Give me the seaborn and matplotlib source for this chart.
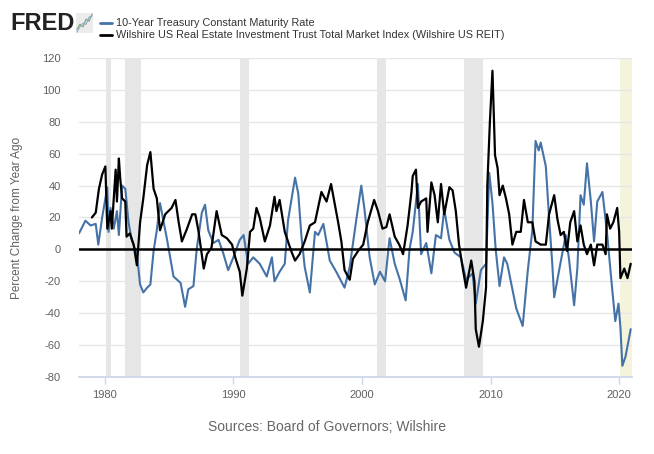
import numpy as np
import pandas as pd
import matplotlib
matplotlib.use("Agg")
import matplotlib.pyplot as plt
import seaborn as sns

# 10-Year Treasury, percent change from year ago
treasury_years = [1978.0, 1978.5, 1978.9, 1979.3, 1979.5, 1979.8, 1980.2, 1980.3, 1980.45, 1980.7,
                  1980.95, 1981.1, 1981.35, 1981.6, 1981.85, 1982.1, 1982.5, 1982.75, 1983.0, 1983.3,
                  1983.55, 1983.8, 1984.05, 1984.3, 1984.85, 1985.35, 1985.9, 1986.25, 1986.5, 1986.9,
                  1987.15, 1987.55, 1987.8, 1988.05, 1988.45, 1988.85, 1989.2, 1989.6, 1990.0, 1990.5,
                  1990.8, 1991.15, 1991.55, 1992.05, 1992.6, 1993.0, 1993.2, 1993.6, 1994.0, 1994.25,
                  1994.8, 1995.05, 1995.3, 1995.55, 1995.95, 1996.35, 1996.6, 1997.0, 1997.5, 1998.0,
                  1998.65, 1999.05, 1999.55, 1999.95, 2000.2, 2000.6, 2001.0, 2001.4, 2001.8, 2002.15,
                  2002.55, 2002.95, 2003.4, 2003.7, 2003.95, 2004.35, 2004.6, 2005.0, 2005.4, 2005.75,
                  2006.15, 2006.4, 2006.8, 2007.2, 2007.7, 2008.1, 2008.6, 2008.85, 2009.25, 2009.65,
                  2009.9, 2010.15, 2010.4, 2010.7, 2011.05, 2011.3, 2011.6, 2012.0, 2012.5, 2012.9,
                  2013.25, 2013.5, 2013.75, 2013.9, 2014.3, 2014.55, 2014.8, 2014.95, 2015.45, 2015.85,
                  2016.1, 2016.5, 2016.75, 2017.0, 2017.25, 2017.5, 2017.8, 2018.05, 2018.3, 2018.7,
                  2019.05, 2019.45, 2019.7, 2019.95, 2020.1, 2020.25, 2020.5, 2020.9]
treasury_values = [10, 18, 15, 16, 3, 20, 39, 11, 26, 13,
                   24, 9, 40, 38, 17, 6, -3, -22, -27, -24,
                   -22, -1, 12, 29, 6, -17, -21, -36, -25, -23,
                   0, 23, 28, 12, 4, 6, -2, -13, -5, 6,
                   9, -9, -5, -9, -17, -5, -20, -14, -9, 18,
                   45, 35, 8, -11, -27, 11, 9, 16, -7, -14,
                   -24, -11, 18, 40, 25, -5, -22, -14, -20, 7,
                   -9, -19, -32, 0, 11, 41, -3, 4, -15, 9,
                   7, 25, 6, -2, -5, -19, -15, -34, -13, -9,
                   48, 29, 0, -23, -5, -9, -21, -37, -48, -13,
                   12, 68, 62, 67, 52, 20, -9, -30, -8, 9,
                   -6, -35, -12, 34, 28, 54, 30, 5, 30, 36,
                   11, -24, -45, -34, -49, -73, -67, -50]

# Wilshire US REIT total market index, percent change from year ago
reit_years = [1979.0, 1979.3, 1979.55, 1979.8, 1980.05, 1980.2, 1980.45, 1980.55, 1980.85, 1980.95,
              1981.1, 1981.2, 1981.35, 1981.6, 1981.7, 1981.95, 1982.25, 1982.5, 1982.75, 1983.0,
              1983.3, 1983.55, 1983.8, 1984.05, 1984.3, 1984.7, 1985.2, 1985.5, 1985.75, 1986.0,
              1986.4, 1986.8, 1987.05, 1987.3, 1987.7, 1987.95, 1988.3, 1988.7, 1989.1, 1989.5,
              1989.9, 1990.15, 1990.5, 1990.7, 1991.05, 1991.3, 1991.55, 1991.8, 1992.05, 1992.45,
              1992.85, 1993.2, 1993.35, 1993.6, 1994.0, 1994.25, 1994.5, 1994.8, 1995.15, 1995.55,
              1995.95, 1996.35, 1996.85, 1997.25, 1997.6, 1997.9, 1998.15, 1998.4, 1998.65, 1999.05,
              1999.3, 1999.7, 2000.1, 2000.45, 2000.95, 2001.25, 2001.6, 2001.9, 2002.15, 2002.55,
              2002.9, 2003.2, 2003.55, 2003.85, 2003.95, 2004.2, 2004.35, 2004.6, 2005.0, 2005.1,
              2005.4, 2005.65, 2005.9, 2006.15, 2006.4, 2006.8, 2007.05, 2007.3, 2007.55, 2007.8,
              2008.1, 2008.5, 2008.75, 2008.85, 2009.1, 2009.4, 2009.65, 2009.75, 2009.95, 2010.15,
              2010.35, 2010.55, 2010.7, 2010.95, 2011.2, 2011.45, 2011.7, 2012.0, 2012.35, 2012.6,
              2012.9, 2013.25, 2013.5, 2013.9, 2014.3, 2014.55, 2014.95, 2015.2, 2015.45, 2015.7,
              2015.95, 2016.2, 2016.5, 2016.75, 2017.0, 2017.25, 2017.5, 2017.8, 2018.05, 2018.3,
              2018.7, 2018.95, 2019.05, 2019.3, 2019.55, 2019.85, 2020.0, 2020.1, 2020.4, 2020.65,
              2020.9]
reit_values = [20, 23, 38, 47, 52, 13, 24, 13, 50, 30,
               57, 45, 32, 30, 8, 10, 3, -10, 17, 32,
               53, 61, 38, 32, 12, 22, 26, 31, 17, 5,
               13, 22, 22, 11, -12, -3, 1, 24, 9, 7,
               3, -5, -14, -29, -12, 11, 13, 26, 20, 5,
               15, 33, 24, 31, 11, 5, -1, -7, -3, 5,
               15, 17, 36, 30, 41, 28, 17, 5, -13, -19,
               -6, -1, 3, 17, 31, 24, 13, 14, 22, 8,
               3, -3, 15, 36, 46, 50, 26, 30, 32, 11,
               42, 34, 17, 41, 22, 39, 37, 24, 3, -10,
               -24, -7, -20, -50, -61, -45, -24, 40, 80, 112,
               59, 51, 34, 40, 32, 22, 3, 11, 11, 31,
               17, 17, 5, 3, 3, 22, 34, 19, 9, 11,
               -1, 17, 24, 5, 15, 3, -3, 3, -10, 3,
               3, -3, 22, 13, 17, 26, 11, -18, -12, -18,
               -9]

recession_starts = [1980.1, 1981.55, 1990.55, 2001.2, 2007.95]
recession_ends = [1980.5, 1982.85, 1991.2, 2001.9, 2009.45]
yellow_start = 2020.1

y_ticks = [-80, -60, -40, -20, 0, 20, 40, 60, 80, 100, 120]
x_ticks = [1980, 1990, 2000, 2010, 2020]

sns.set_theme(style="white")
plt.rcParams['font.family'] = ['Liberation Sans', 'DejaVu Sans']

fig = plt.figure(figsize=(6.54, 4.54), dpi=100)
ax = fig.add_axes([79 / 654, 1 - 377 / 454, 553 / 654, 319 / 454])

for s, e in zip(recession_starts, recession_ends):
    ax.axvspan(s, e, color="#e6e6e6", lw=0, zorder=0)
ax.axvspan(yellow_start, 2021.2, color="#f4f4dc", lw=0, zorder=0)

for t in y_ticks:
    ax.axhline(t, color="#e6e6e6", lw=1, zorder=1)

treasury = pd.DataFrame({"year": treasury_years, "pct": treasury_values})
reit = pd.DataFrame({"year": reit_years, "pct": reit_values})
sns.lineplot(data=treasury, x="year", y="pct", ax=ax, color="#4572a7", lw=1.5, zorder=3)
sns.lineplot(data=reit, x="year", y="pct", ax=ax, color="#000000", lw=1.6, zorder=4)
ax.axhline(0, color="#000000", lw=1.8, zorder=5)

ax.set_xlim(1978.0, 2021.0)
ax.set_ylim(-80, 120)
ax.set_yticks(y_ticks)
ax.set_yticklabels([str(t) for t in y_ticks], fontsize=8, color="#606060")
ax.set_xticks(x_ticks)
ax.set_xticklabels([str(t) for t in x_ticks], fontsize=8, color="#606060")
ax.tick_params(axis="y", length=0, pad=13)
ax.tick_params(axis="x", length=5, color="#ccd6eb", width=1, pad=4, direction="out", bottom=True)
for side in ["top", "right", "left"]:
    ax.spines[side].set_visible(False)
ax.spines["bottom"].set_color("#ccd6eb")
ax.set_xlabel("")
ax.set_ylabel("Percent Change from Year Ago", fontsize=8.5, color="#606060", labelpad=14)

# header: logo and legend
fig.text(10 / 654, 1 - 23.5 / 454, "FRED", fontsize=17, fontweight="bold", color="#222222",
         va="center", ha="left")
icon = fig.add_axes([76 / 654, 1 - 33 / 454, 17 / 654, 20 / 454])
icon.set_facecolor("#ececec")
icon.plot([0, 1, 2, 3, 4, 5], [1, 2, 1.5, 3, 2.6, 4], color="#7aa66f", lw=0.8)
icon.plot([0, 1, 2, 3, 4, 5], [0.5, 1.5, 2.2, 2, 3.4, 3.6], color="#8aa9cf", lw=0.8)
icon.set_xticks([])
icon.set_yticks([])
for sp in icon.spines.values():
    sp.set_visible(False)

fig.add_artist(plt.Line2D([100 / 654, 112 / 654], [1 - 22.5 / 454, 1 - 22.5 / 454], color="#4572a7", lw=2))
fig.add_artist(plt.Line2D([100 / 654, 112 / 654], [1 - 34.5 / 454, 1 - 34.5 / 454], color="#000000", lw=2))
fig.text(116 / 654, 1 - 22.5 / 454, "10-Year Treasury Constant Maturity Rate", fontsize=7.8,
         color="#333333", va="center", ha="left")
fig.text(116 / 654, 1 - 34.5 / 454,
         "Wilshire US Real Estate Investment Trust Total Market Index (Wilshire US REIT)",
         fontsize=7.8, color="#333333", va="center", ha="left")

fig.text(0.5, 1 - 427 / 454, "Sources: Board of Governors; Wilshire", fontsize=10,
         color="#666666", ha="center", va="center")

fig.savefig("out.png", dpi=100)
